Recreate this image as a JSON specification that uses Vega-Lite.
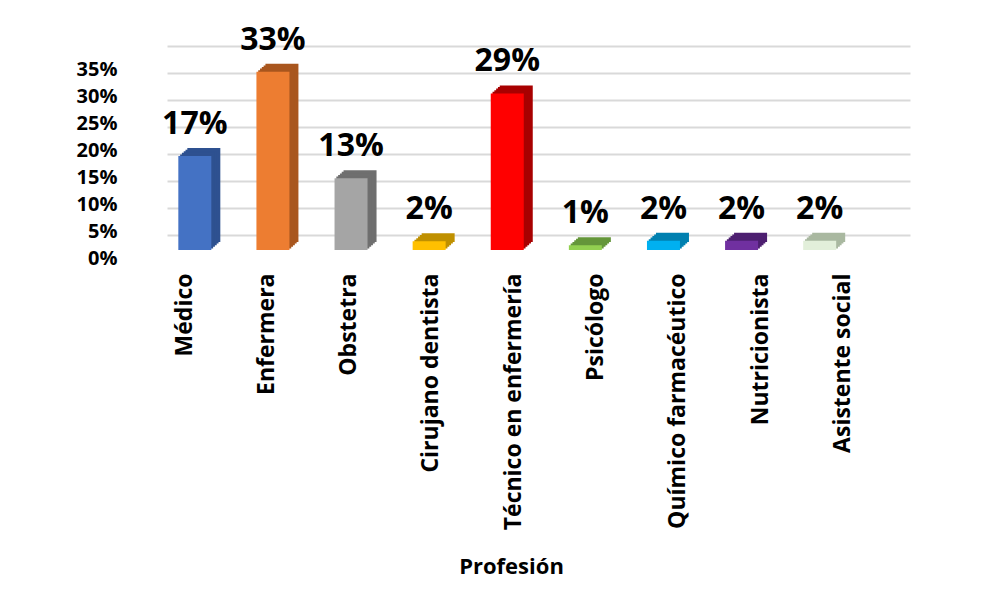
{
  "$schema": "https://vega.github.io/schema/vega-lite/v6.json",
  "autosize": "none",
  "padding": {"left": 167, "top": 61, "right": 74, "bottom": 343},
  "width": 743,
  "height": 189,
  "background": "white",
  "config": {"view": {"stroke": null}},
  "data": {
    "values": [
      {"Profesión": "Médico", "valor": 0.174},
      {"Profesión": "Enfermera", "valor": 0.33},
      {"Profesión": "Obstetra", "valor": 0.133},
      {"Profesión": "Cirujano dentista", "valor": 0.016},
      {"Profesión": "Técnico en enfermería", "valor": 0.29},
      {"Profesión": "Psicólogo", "valor": 0.009},
      {"Profesión": "Químico farmacéutico", "valor": 0.017},
      {"Profesión": "Nutricionista", "valor": 0.017},
      {"Profesión": "Asistente social", "valor": 0.017}
    ]
  },
  "layer": [
    {
      "encoding": {
        "x": {
          "field": "Profesión",
          "type": "nominal",
          "sort": null,
          "scale": {"paddingInner": 0.5775, "paddingOuter": 0.545, "align": 0.133},
          "axis": null
        },
        "y": {
          "field": "valor",
          "type": "quantitative",
          "scale": {"domain": [0, 0.35], "nice": false, "zero": true},
          "axis": {
            "format": ".0%",
            "values": [0, 0.05, 0.1, 0.15, 0.2, 0.25, 0.3, 0.35],
            "tickOffset": -15,
            "labelOffset": 23,
            "grid": true,
            "gridColor": "#d9d9d9",
            "gridWidth": 2,
            "domain": false,
            "ticks": false,
            "tickSize": 0,
            "labelPadding": 50,
            "labelFont": "Open Sans",
            "labelFontSize": 20,
            "labelFontWeight": "bold",
            "labelColor": "#000000",
            "title": null
          }
        }
      },
      "layer": [
        {
          "mark": {"type": "bar", "xOffset": 9, "yOffset": -8},
          "encoding": {
            "color": {
              "field": "Profesión", "type": "nominal",
              "scale": {
                "domain": ["Médico", "Enfermera", "Obstetra", "Cirujano dentista", "Técnico en enfermería", "Psicólogo", "Químico farmacéutico", "Nutricionista", "Asistente social"],
                "range": ["#2E5190", "#A9561E", "#6F6F6F", "#BF9000", "#A80000", "#64963A", "#0080B0", "#4D1F70", "#A9B8A0"]
              },
              "legend": null
            }
          }
        },
        {
          "mark": {"type": "bar", "xOffset": 7.2, "yOffset": -6.4},
          "encoding": {
            "color": {
              "field": "Profesión", "type": "nominal",
              "scale": {
                "domain": ["Médico", "Enfermera", "Obstetra", "Cirujano dentista", "Técnico en enfermería", "Psicólogo", "Químico farmacéutico", "Nutricionista", "Asistente social"],
                "range": ["#2E5190", "#A9561E", "#6F6F6F", "#BF9000", "#A80000", "#64963A", "#0080B0", "#4D1F70", "#A9B8A0"]
              },
              "legend": null
            }
          }
        },
        {
          "mark": {"type": "bar", "xOffset": 5.4, "yOffset": -4.8},
          "encoding": {
            "color": {
              "field": "Profesión", "type": "nominal",
              "scale": {
                "domain": ["Médico", "Enfermera", "Obstetra", "Cirujano dentista", "Técnico en enfermería", "Psicólogo", "Químico farmacéutico", "Nutricionista", "Asistente social"],
                "range": ["#2E5190", "#A9561E", "#6F6F6F", "#BF9000", "#A80000", "#64963A", "#0080B0", "#4D1F70", "#A9B8A0"]
              },
              "legend": null
            }
          }
        },
        {
          "mark": {"type": "bar", "xOffset": 3.6, "yOffset": -3.2},
          "encoding": {
            "color": {
              "field": "Profesión", "type": "nominal",
              "scale": {
                "domain": ["Médico", "Enfermera", "Obstetra", "Cirujano dentista", "Técnico en enfermería", "Psicólogo", "Químico farmacéutico", "Nutricionista", "Asistente social"],
                "range": ["#2E5190", "#A9561E", "#6F6F6F", "#BF9000", "#A80000", "#64963A", "#0080B0", "#4D1F70", "#A9B8A0"]
              },
              "legend": null
            }
          }
        },
        {
          "mark": {"type": "bar", "xOffset": 1.8, "yOffset": -1.6},
          "encoding": {
            "color": {
              "field": "Profesión", "type": "nominal",
              "scale": {
                "domain": ["Médico", "Enfermera", "Obstetra", "Cirujano dentista", "Técnico en enfermería", "Psicólogo", "Químico farmacéutico", "Nutricionista", "Asistente social"],
                "range": ["#2E5190", "#A9561E", "#6F6F6F", "#BF9000", "#A80000", "#64963A", "#0080B0", "#4D1F70", "#A9B8A0"]
              },
              "legend": null
            }
          }
        },
        {
          "mark": {"type": "bar"},
          "encoding": {
            "color": {
              "field": "Profesión", "type": "nominal",
              "scale": {
                "domain": ["Médico", "Enfermera", "Obstetra", "Cirujano dentista", "Técnico en enfermería", "Psicólogo", "Químico farmacéutico", "Nutricionista", "Asistente social"],
                "range": ["#4472C4", "#ED7D31", "#A5A5A5", "#FFC000", "#FF0000", "#92D050", "#00B0F0", "#7030A0", "#E2EFDA"]
              },
              "legend": null
            }
          }
        },
        {
          "mark": {"type": "text", "dy": -22, "baseline": "alphabetic", "font": "Open Sans", "fontSize": 32, "fontWeight": "bold", "color": "#000000"},
          "encoding": {
            "text": {"field": "valor", "type": "quantitative", "format": ".0%"}
          }
        }
      ],
      "resolve": {"scale": {"color": "independent"}}
    },
    {
      "mark": {"type": "point", "opacity": 0},
      "encoding": {
        "x": {
          "field": "Profesión",
          "type": "nominal",
          "sort": null,
          "scale": {"type": "point", "padding": 0.514, "align": 0.201},
          "axis": {
            "orient": "bottom",
            "labelAngle": -90,
            "labelPadding": 23,
            "ticks": false,
            "tickSize": 0,
            "domain": false,
            "grid": false,
            "labelFont": "Open Sans",
            "labelFontSize": 23,
            "labelFontWeight": "bold",
            "labelColor": "#000000",
            "labelLimit": 400,
            "title": "Profesión",
            "titleFont": "Open Sans",
            "titleFontSize": 22,
            "titleFontWeight": "bold",
            "titleColor": "#000000",
            "titleX": 344,
            "titleY": 323,
            "titleBaseline": "alphabetic",
            "titleAlign": "center"
          }
        }
      }
    }
  ],
  "resolve": {"scale": {"x": "independent"}}
}
